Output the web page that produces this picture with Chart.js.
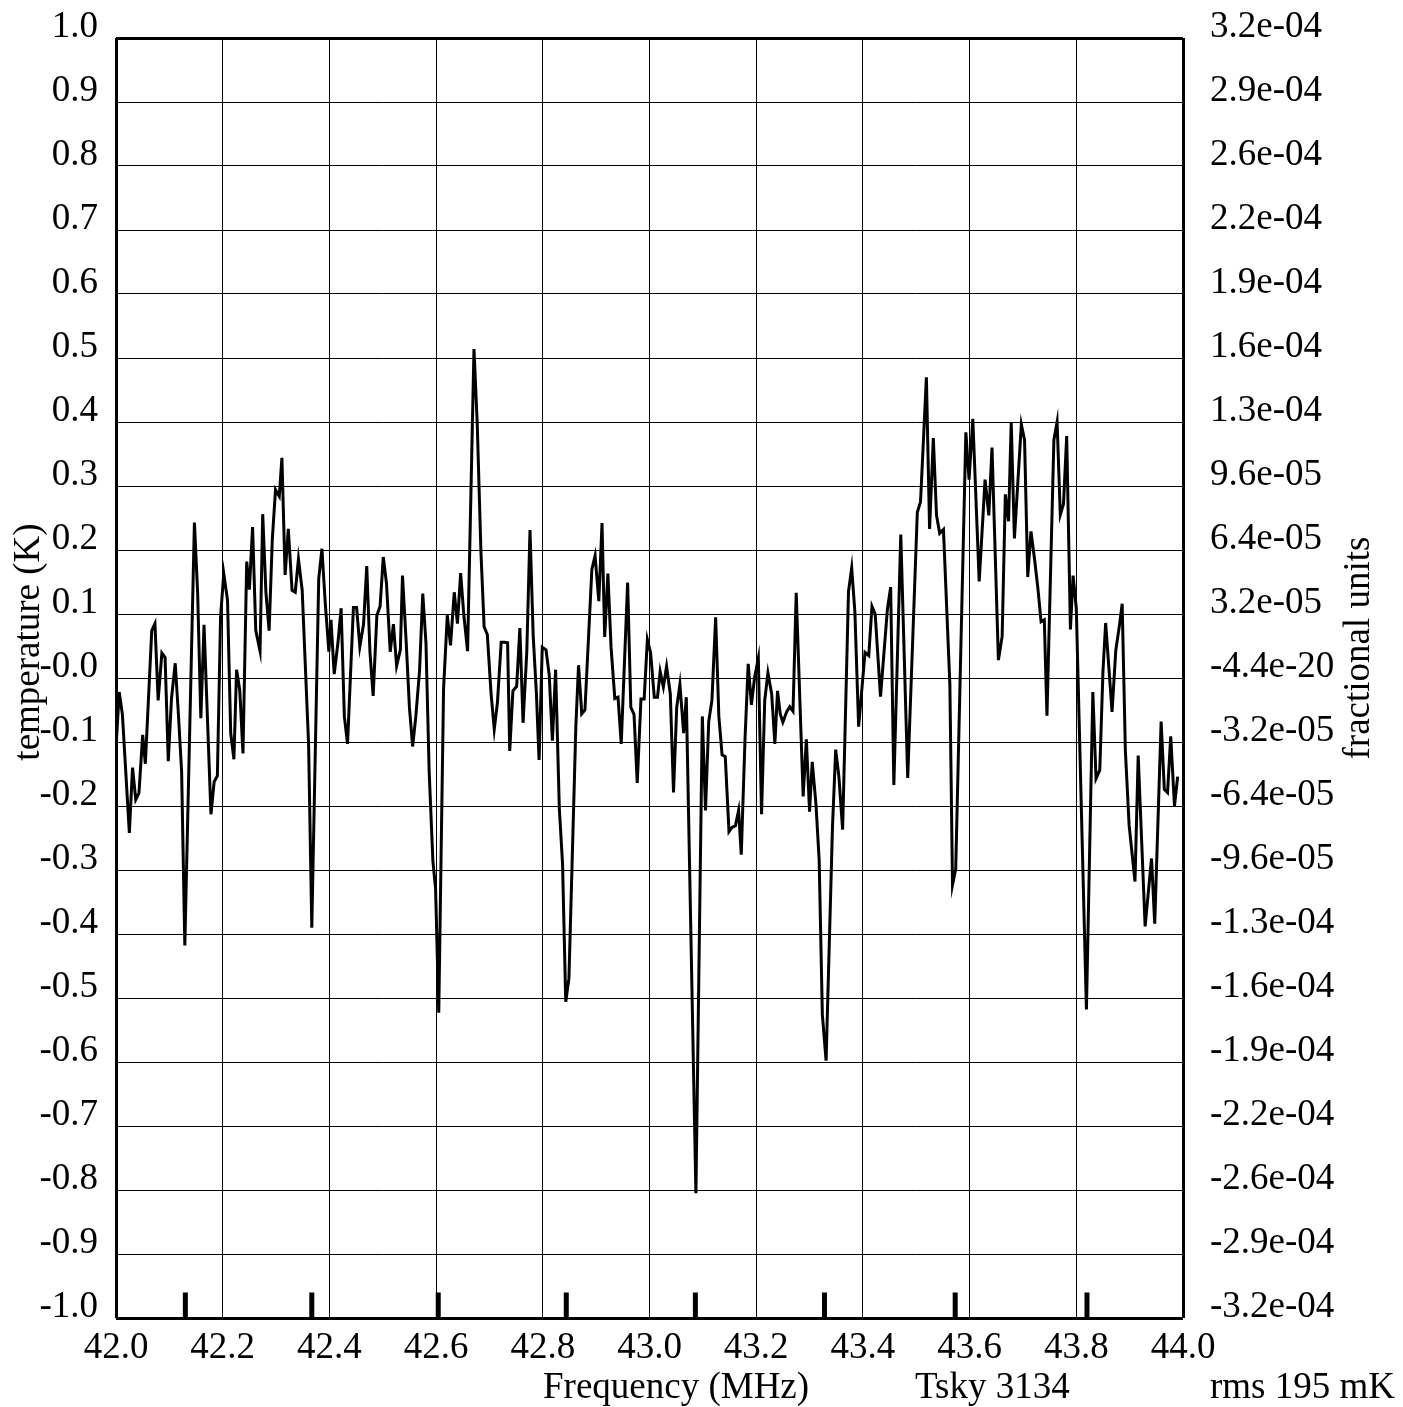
<!DOCTYPE html>
<html>
<head>
<meta charset="utf-8">
<script src="https://cdn.jsdelivr.net/npm/chart.js@4.4.1/dist/chart.umd.min.js"></script>
<style>
html,body{margin:0;padding:0;background:#fff;}
#wrap{width:1403px;height:1407px;position:relative;}
</style>
</head>
<body>
<div id="wrap"><canvas id="c"></canvas></div>
<script>
const freqMHz = [42.001,42.006,42.012,42.025,42.031,42.037,42.043,42.050,42.055,42.067,42.073,42.079,42.086,42.092,42.098,42.104,42.111,42.117,42.123,42.129,42.147,42.153,42.159,42.165,42.178,42.184,42.190,42.196,42.202,42.209,42.215,42.221,42.226,42.232,42.238,42.245,42.250,42.256,42.262,42.270,42.275,42.281,42.287,42.293,42.299,42.306,42.311,42.317,42.323,42.330,42.336,42.342,42.349,42.361,42.367,42.380,42.386,42.392,42.399,42.403,42.409,42.416,42.422,42.428,42.434,42.441,42.445,42.451,42.457,42.464,42.470,42.476,42.482,42.489,42.495,42.501,42.507,42.514,42.520,42.526,42.533,42.537,42.544,42.550,42.556,42.562,42.569,42.575,42.581,42.587,42.594,42.599,42.605,42.614,42.621,42.627,42.634,42.640,42.646,42.652,42.659,42.671,42.677,42.684,42.690,42.696,42.703,42.709,42.715,42.722,42.728,42.734,42.738,42.744,42.751,42.757,42.763,42.770,42.776,42.782,42.788,42.793,42.799,42.806,42.812,42.818,42.824,42.831,42.837,42.843,42.849,42.862,42.867,42.873,42.879,42.892,42.898,42.905,42.911,42.916,42.922,42.928,42.935,42.941,42.947,42.959,42.965,42.971,42.977,42.984,42.990,42.996,43.002,43.009,43.015,43.020,43.026,43.032,43.039,43.045,43.051,43.057,43.064,43.069,43.087,43.099,43.105,43.111,43.117,43.124,43.130,43.136,43.142,43.149,43.155,43.161,43.167,43.172,43.179,43.185,43.191,43.197,43.204,43.210,43.216,43.222,43.229,43.235,43.240,43.245,43.250,43.257,43.263,43.269,43.275,43.288,43.294,43.300,43.305,43.312,43.318,43.324,43.331,43.343,43.349,43.355,43.362,43.373,43.379,43.385,43.392,43.404,43.411,43.417,43.423,43.433,43.446,43.452,43.458,43.471,43.484,43.502,43.508,43.519,43.525,43.532,43.538,43.544,43.551,43.563,43.568,43.574,43.593,43.599,43.606,43.618,43.629,43.636,43.642,43.654,43.661,43.667,43.673,43.678,43.684,43.697,43.703,43.709,43.715,43.722,43.728,43.734,43.740,43.745,43.758,43.764,43.770,43.776,43.782,43.789,43.794,43.800,43.819,43.831,43.837,43.844,43.850,43.855,43.861,43.867,43.874,43.881,43.886,43.892,43.899,43.910,43.916,43.929,43.941,43.947,43.959,43.965,43.971,43.977,43.984,43.990];
const tempK = [-0.095,-0.022,-0.057,-0.242,-0.140,-0.190,-0.180,-0.089,-0.134,0.074,0.085,-0.035,0.039,0.032,-0.130,-0.032,0.023,-0.057,-0.146,-0.418,0.243,0.134,-0.063,0.083,-0.213,-0.162,-0.153,0.096,0.163,0.122,-0.086,-0.127,0.013,-0.019,-0.118,0.182,0.138,0.236,0.074,0.042,0.256,0.134,0.074,0.217,0.294,0.284,0.344,0.161,0.233,0.137,0.134,0.186,0.137,-0.103,-0.390,0.155,0.202,0.120,0.041,0.091,0.006,0.055,0.109,-0.060,-0.103,0.033,0.110,0.110,0.049,0.084,0.175,0.041,-0.028,0.098,0.112,0.189,0.148,0.041,0.084,0.019,0.044,0.160,0.055,-0.046,-0.107,-0.060,0.012,0.132,0.055,-0.146,-0.286,-0.329,-0.523,-0.017,0.098,0.051,0.134,0.085,0.164,0.098,0.042,0.514,0.400,0.198,0.080,0.068,-0.024,-0.080,-0.038,0.056,0.056,0.055,-0.114,-0.020,-0.013,0.078,-0.070,0.041,0.231,0.066,-0.024,-0.128,0.048,0.044,0.005,-0.098,0.013,-0.204,-0.290,-0.506,-0.469,-0.074,0.020,-0.056,-0.050,0.170,0.191,0.120,0.242,0.064,0.163,0.047,-0.032,-0.030,-0.103,0.149,-0.046,-0.057,-0.164,-0.033,-0.033,0.060,0.040,-0.030,-0.030,0.010,-0.014,0.018,-0.025,-0.179,-0.046,-0.010,-0.086,-0.030,-0.805,-0.060,-0.207,-0.068,-0.035,0.095,-0.060,-0.120,-0.123,-0.240,-0.233,-0.231,-0.207,-0.276,-0.096,0.022,-0.042,0.001,0.031,-0.213,-0.035,0.008,-0.025,-0.103,-0.020,-0.056,-0.069,-0.053,-0.045,-0.052,0.133,-0.185,-0.096,-0.209,-0.131,-0.197,-0.284,-0.526,-0.598,-0.232,-0.112,-0.154,-0.237,0.135,0.172,0.103,-0.076,0.040,0.035,0.112,0.100,-0.029,0.108,0.142,-0.167,0.224,-0.156,0.259,0.275,0.470,0.233,0.375,0.254,0.226,0.232,-0.010,-0.323,-0.298,0.384,0.310,0.405,0.151,0.310,0.254,0.360,0.028,0.065,0.287,0.245,0.399,0.218,0.396,0.372,0.158,0.229,0.184,0.140,0.088,0.091,-0.059,0.372,0.400,0.255,0.272,0.378,0.076,0.160,0.109,-0.518,-0.022,-0.157,-0.144,0.011,0.086,0.017,-0.053,0.043,0.083,0.116,-0.114,-0.230,-0.318,-0.121,-0.388,-0.282,-0.384,-0.068,-0.174,-0.179,-0.091,-0.200,-0.154];
const markerFreqMHz = [42.130,42.367,42.604,42.844,43.086,43.328,43.573,43.820];
const markerBottom = -1.0, markerTop = -0.96;

const xTickValues = [42.0,42.2,42.4,42.6,42.8,43.0,43.2,43.4,43.6,43.8,44.0];
const xTickLabels = ["42.0","42.2","42.4","42.6","42.8","43.0","43.2","43.4","43.6","43.8","44.0"];
const yTickValues = [-1.0,-0.9,-0.8,-0.7,-0.6,-0.5,-0.4,-0.3,-0.2,-0.1,0.0,0.1,0.2,0.3,0.4,0.5,0.6,0.7,0.8,0.9,1.0];
const yTickLabels = ["-1.0","-0.9","-0.8","-0.7","-0.6","-0.5","-0.4","-0.3","-0.2","-0.1","-0.0","0.1","0.2","0.3","0.4","0.5","0.6","0.7","0.8","0.9","1.0"];
const rightTickLabels = ["-3.2e-04","-2.9e-04","-2.6e-04","-2.2e-04","-1.9e-04","-1.6e-04","-1.3e-04","-9.6e-05","-6.4e-05","-3.2e-05","-4.4e-20","3.2e-05","6.4e-05","9.6e-05","1.3e-04","1.6e-04","1.9e-04","2.2e-04","2.6e-04","2.9e-04","3.2e-04"];

const FONT = '"Liberation Serif", "Times New Roman", serif';
const FS = 37;
const spectrum = freqMHz.map((f,i)=>({x:f,y:tempK[i]}));
const markers = [];
markerFreqMHz.forEach(f=>{ markers.push({x:f,y:markerBottom},{x:f,y:markerTop},{x:f,y:null}); });

function zeroPad(s){ s.paddingTop = 0; s.paddingBottom = 0; s.paddingLeft = 0; s.paddingRight = 0; }

const textPlugin = {
  id:'extraText',
  afterDraw(chart){
    const ctx = chart.ctx;
    ctx.save();
    ctx.fillStyle = '#000';
    ctx.font = FS + 'px ' + FONT;
    ctx.textBaseline = 'alphabetic';
    ctx.textAlign = 'left';
    ctx.fillText('Frequency (MHz)', 543, 1398);
    ctx.fillText('Tsky 3134', 915, 1398);
    ctx.fillText('rms 195 mK', 1210, 1398);
    ctx.textAlign = 'center';
    ctx.save();
    ctx.translate(39, 642);
    ctx.rotate(-Math.PI/2);
    ctx.fillText('temperature (K)', 0, 0);
    ctx.restore();
    ctx.save();
    ctx.translate(1369, 648);
    ctx.rotate(-Math.PI/2);
    ctx.fillText('fractional units', 0, 0);
    ctx.restore();
    ctx.restore();
  }
};

new Chart(document.getElementById('c'), {
  type:'line',
  data:{ datasets:[
    {data:spectrum, borderColor:'#000', borderWidth:3, pointRadius:0, tension:0, fill:false, yAxisID:'y'},
    {data:markers, borderColor:'#000', borderWidth:5, pointRadius:0, tension:0, fill:false, spanGaps:false, yAxisID:'y', borderCapStyle:'butt'}
  ]},
  options:{
    responsive:true, maintainAspectRatio:false, animation:false, devicePixelRatio:1,
    layout:{padding:{top:38,left:0,right:0,bottom:0}},
    plugins:{legend:{display:false}, tooltip:{enabled:false}},
    scales:{
      x:{type:'linear', position:'bottom', min:42, max:44,
        afterBuildTicks(s){ s.ticks = xTickValues.map(v=>({value:v})); },
        afterFit(s){ s.height = 89; zeroPad(s); },
        ticks:{callback:(v,i)=>xTickLabels[i], color:'#000', font:{family:FONT,size:FS}, padding:8, maxRotation:0, autoSkip:false},
        grid:{color:'#000', lineWidth:c=>(c.tick && (Math.abs(c.tick.value-42)<1e-9||Math.abs(c.tick.value-44)<1e-9))?3:1, drawTicks:false},
        border:{display:false}
      },
      y:{type:'linear', position:'left', min:-1, max:1,
        afterBuildTicks(s){ s.ticks = yTickValues.map(v=>({value:v})); },
        afterFit(s){ s.width = 116; zeroPad(s); },
        ticks:{callback:(v,i)=>yTickLabels[i], color:'#000', font:{family:FONT,size:FS}, padding:18, labelOffset:-11, autoSkip:false},
        grid:{color:'#000', lineWidth:c=>(c.tick && Math.abs(Math.abs(c.tick.value)-1)<1e-9)?3:1, drawTicks:false},
        border:{display:false}
      },
      y2:{type:'linear', position:'right', min:-1, max:1,
        afterBuildTicks(s){ s.ticks = yTickValues.map(v=>({value:v})); },
        afterFit(s){ s.width = 220; zeroPad(s); },
        ticks:{callback:(v,i)=>rightTickLabels[i], color:'#000', font:{family:FONT,size:FS}, padding:27, labelOffset:-11, autoSkip:false},
        grid:{display:false, drawTicks:false},
        border:{display:false}
      }
    }
  },
  plugins:[textPlugin]
});
</script>
</body>
</html>
